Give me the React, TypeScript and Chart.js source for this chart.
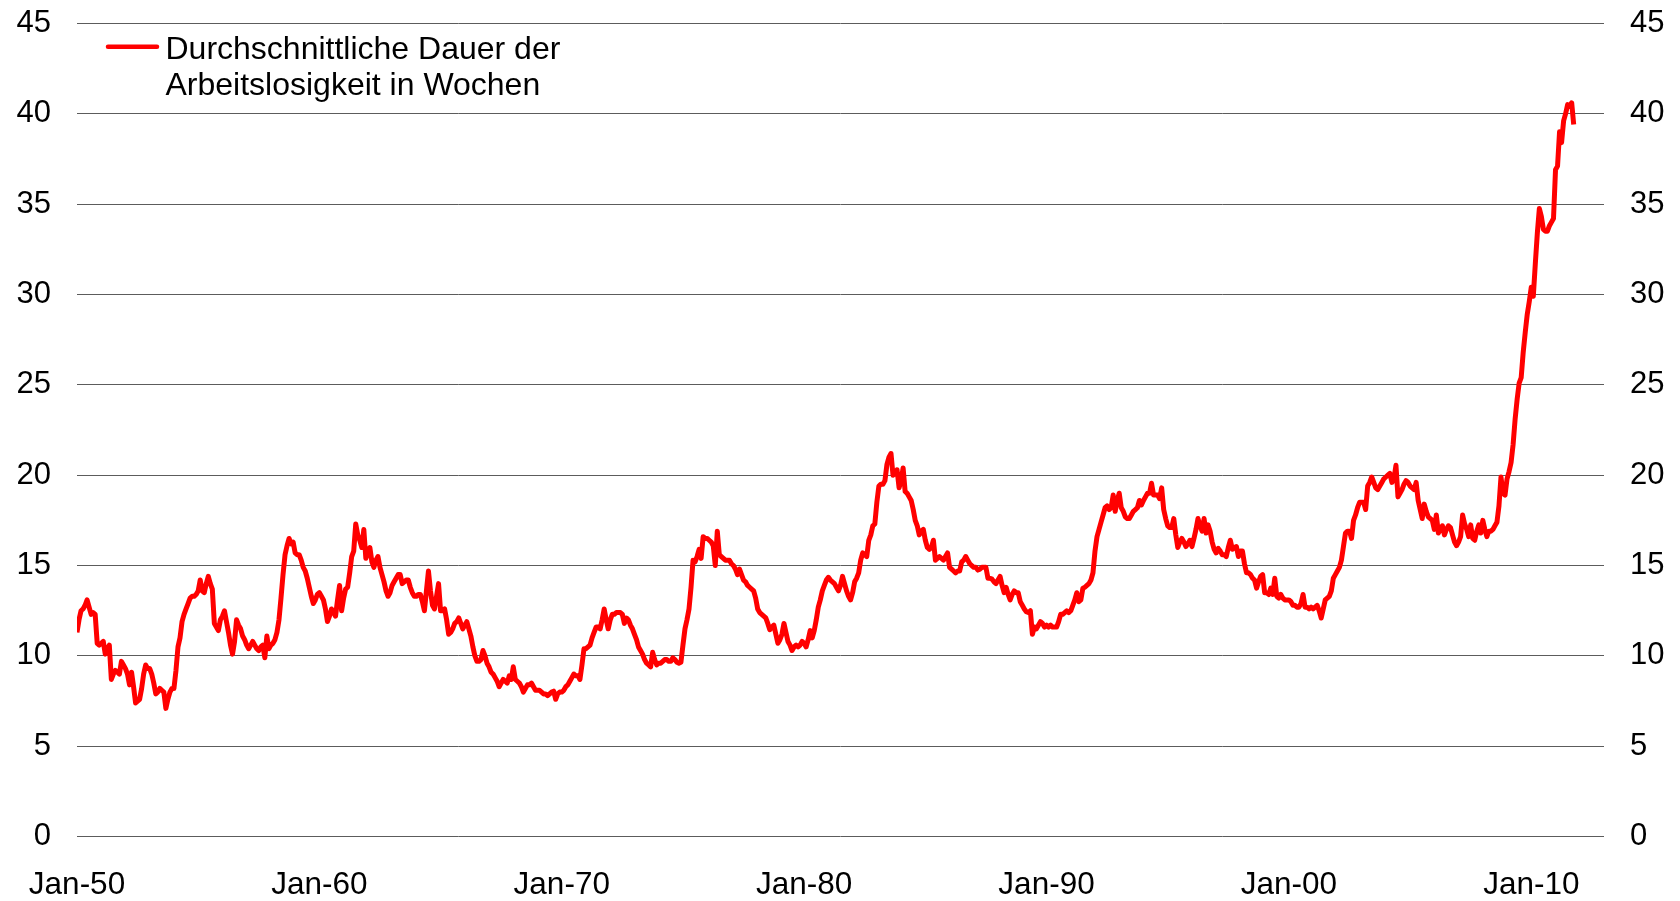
import { useEffect, useRef } from "react";
import { Chart, registerables } from "chart.js";

Chart.register(...registerables);

// ---- data ----
const tickLabels = ["Jan-50", "Jan-60", "Jan-70", "Jan-80", "Jan-90", "Jan-00", "Jan-10"];
const tickStepMonths = 120;
const axisMaxMonths = 756; // axis runs to Jan-13
const seriesLabel = "Durchschnittliche Dauer der Arbeitslosigkeit in Wochen";
const legendLines = ["Durchschnittliche Dauer der", "Arbeitslosigkeit in Wochen"];
const yMin = 0;
const yMax = 45;
const yStep = 5;

// monthly values, Jan 1950 – Oct 2011 (one row per year)
const durationWeeks = [
  11.3, 12.0, 12.5, 12.6, 12.8, 13.1, 12.7, 12.3, 12.4, 12.3, 10.7, 10.6,
  10.7, 10.8, 10.1, 10.4, 10.6, 8.7, 9.0, 9.2, 9.1, 9.0, 9.7, 9.5,
  9.3, 9.0, 8.4, 9.1, 8.3, 7.4, 7.5, 7.6, 8.2, 9.0, 9.5, 9.3,
  9.3, 9.0, 8.5, 7.9, 8.0, 8.2, 8.1, 8.0, 7.1, 7.6, 8.0, 8.2,
  8.2, 9.2, 10.5, 11.0, 11.9, 12.3, 12.6, 12.9, 13.2, 13.3, 13.3, 13.4,
  13.6, 14.2, 13.6, 13.5, 14.0, 14.4, 14.0, 13.7, 11.8, 11.6, 11.4, 12.0,
  12.2, 12.5, 11.9, 11.3, 10.6, 10.1, 10.8, 12.0, 11.7, 11.5, 11.1, 10.9,
  10.6, 10.4, 10.6, 10.8, 10.6, 10.4, 10.3, 10.5, 10.6, 9.9, 11.1, 10.4,
  10.6, 10.7, 10.9, 11.3, 12.0, 13.2, 14.5, 15.6, 16.1, 16.5, 16.2, 16.3,
  15.7, 15.6, 15.6, 15.3, 14.9, 14.7, 14.3, 13.8, 13.3, 12.9, 13.1, 13.4,
  13.5, 13.3, 13.1, 12.6, 11.9, 12.2, 12.6, 12.4, 12.2, 13.1, 13.9, 12.5,
  13.2, 13.7, 13.8, 14.6, 15.5, 15.8, 17.3, 16.7, 16.4, 16.0, 17.0, 15.4,
  15.7, 16.0, 15.2, 14.9, 15.3, 15.5, 14.9, 14.5, 14.1, 13.6, 13.3, 13.5,
  13.9, 14.1, 14.3, 14.5, 14.5, 14.0, 14.1, 14.2, 14.2, 13.8, 13.5, 13.3,
  13.3, 13.4, 13.4, 13.0, 12.5, 13.6, 14.7, 13.6, 12.8, 12.6, 13.3, 14.0,
  12.5, 12.5, 12.6, 12.0, 11.2, 11.3, 11.5, 11.8, 11.9, 12.1, 11.8, 11.5,
  11.7, 11.9, 11.5, 11.1, 10.5, 10.0, 9.7, 9.7, 9.8, 10.3, 10.0, 9.6,
  9.4, 9.1, 9.0, 8.8, 8.6, 8.3, 8.5, 8.7, 8.6, 8.5, 8.9, 8.7,
  9.4, 8.7, 8.6, 8.5, 8.3, 8.0, 8.2, 8.4, 8.4, 8.5, 8.3, 8.1,
  8.1, 8.1, 8.0, 7.9, 7.9, 7.8, 7.9, 8.0, 8.05, 7.6, 7.9, 8.0,
  8.0, 8.1, 8.3, 8.4, 8.6, 8.8, 9.0, 8.9, 8.9, 8.7, 9.5, 10.4,
  10.4, 10.5, 10.6, 11.0, 11.3, 11.6, 11.6, 11.5, 12.0, 12.6, 12.0, 11.5,
  12.0, 12.3, 12.3, 12.4, 12.4, 12.4, 12.3, 11.8, 12.1, 12.0, 11.7, 11.5,
  11.2, 10.9, 10.5, 10.3, 10.1, 9.8, 9.6, 9.5, 9.4, 10.2, 9.8, 9.5,
  9.6, 9.6, 9.7, 9.8, 9.8, 9.7, 9.7, 9.9, 9.8, 9.65, 9.6, 9.65,
  10.6, 11.5, 12.0, 12.6, 13.8, 15.3, 15.2, 15.5, 15.9, 15.4, 16.6, 16.5,
  16.5, 16.4, 16.3, 16.1, 15.0, 16.9, 15.6, 15.5, 15.4, 15.3, 15.3, 15.3,
  15.1, 15.0, 14.8, 14.5, 14.8, 14.5, 14.2, 14.1, 13.9, 13.8, 13.7, 13.6,
  13.2, 12.6, 12.4, 12.3, 12.2, 12.1, 11.8, 11.45, 11.6, 11.7, 11.2, 10.7,
  10.9, 11.2, 11.8, 11.3, 10.8, 10.6, 10.3, 10.5, 10.6, 10.5, 10.6, 10.8,
  10.7, 10.5, 10.9, 11.4, 11.0, 11.4, 12.0, 12.7, 13.1, 13.6, 13.9, 14.2,
  14.35, 14.2, 14.1, 14.0, 13.8, 13.6, 13.9, 14.4, 14.0, 13.6, 13.3, 13.1,
  13.5, 14.1, 14.3, 14.6, 15.3, 15.7, 15.6, 15.5, 16.4, 16.7, 17.2, 17.3,
  18.5, 19.4, 19.5, 19.5, 19.7, 20.6, 21.0, 21.2, 20.0, 20.1, 20.3, 19.3,
  19.7, 20.4, 19.1, 19.0, 18.8, 18.6, 18.1, 17.5, 17.2, 16.7, 16.9, 17.0,
  16.4, 16.0, 15.9, 16.0, 16.4, 15.3, 15.4, 15.5, 15.4, 15.3, 15.5, 15.7,
  14.9, 14.8, 14.7, 14.6, 14.7, 14.7, 15.2, 15.3, 15.5, 15.3, 15.1, 15.0,
  14.9, 14.9, 14.75, 14.8, 14.9, 14.9, 14.9, 14.3, 14.3, 14.25, 14.1, 14.0,
  14.2, 14.4, 13.9, 13.5, 13.8, 13.4, 13.1, 13.4, 13.6, 13.5, 13.5, 13.0,
  12.8, 12.6, 12.45, 12.4, 12.5, 11.2, 11.6, 11.5, 11.7, 11.9, 11.8, 11.6,
  11.7, 11.6, 11.7, 11.6, 11.6, 11.6, 11.9, 12.3, 12.3, 12.4, 12.5, 12.4,
  12.5, 12.8, 13.1, 13.5, 13.0, 13.1, 13.75, 13.8, 13.9, 14.0, 14.2, 14.6,
  15.8, 16.6, 17.0, 17.4, 17.8, 18.2, 18.3, 18.1, 18.2, 18.9, 18.0, 18.6,
  19.0, 18.2, 18.0, 17.7, 17.6, 17.6, 17.8, 18.0, 18.1, 18.2, 18.6, 18.35,
  18.6, 18.8, 19.0, 19.0, 19.55, 18.9, 18.9, 18.9, 18.7, 19.3, 18.1, 17.6,
  17.2, 17.1, 17.1, 17.6, 16.7, 16.0, 16.3, 16.5, 16.3, 16.05, 16.2, 16.4,
  16.05, 16.5, 17.0, 17.6, 17.2, 16.9, 17.6, 16.8, 17.25, 16.9, 16.3, 15.9,
  15.7, 15.95, 15.8, 15.6, 15.6, 15.5, 16.0, 16.4, 15.9, 16.0, 16.05, 15.5,
  15.8, 15.8, 15.1, 14.6, 14.6, 14.5, 14.3, 14.2, 13.75, 14.1, 14.4, 14.5,
  13.5, 13.5, 13.4, 13.75, 13.4, 14.3, 13.3, 13.2, 13.4, 13.2, 13.1, 13.1,
  13.1, 13.0, 12.8, 12.8, 12.7, 12.7, 12.9, 13.4, 12.7, 12.7, 12.6, 12.7,
  12.6, 12.7, 12.8, 12.5, 12.1, 12.6, 13.1, 13.2, 13.3, 13.6, 14.3, 14.5,
  14.7, 14.9, 15.3, 16.05, 16.8, 16.9, 16.9, 16.5, 17.5, 17.8, 18.2, 18.5,
  18.5, 18.5, 18.1, 19.4, 19.6, 19.9, 19.6, 19.3, 19.2, 19.4, 19.6, 19.8,
  19.9, 20.0, 20.1, 19.6, 19.8, 20.55, 18.8, 19.0, 19.2, 19.5, 19.7, 19.6,
  19.4, 19.3, 19.2, 19.6, 18.6, 18.1, 17.6, 18.4, 18.0, 17.7, 17.6, 17.5,
  17.0, 17.8, 16.8, 17.0, 17.2, 16.7, 17.0, 17.2, 17.1, 16.7, 16.3, 16.1,
  16.3, 16.6, 17.8, 17.3, 17.0, 16.6, 17.25, 16.5, 16.4, 16.9, 17.25, 16.8,
  17.5, 17.0, 16.6, 16.9, 16.9, 17.0, 17.2, 17.4, 18.3, 19.9, 19.0, 18.9,
  19.8, 20.2, 20.7, 21.7, 23.1, 24.2, 25.1, 25.4, 26.8, 27.9, 28.9, 29.6,
  30.4, 29.9, 31.7, 33.4, 34.75, 34.3, 33.6, 33.5, 33.5, 33.8, 34.0, 34.2,
  36.9, 37.1, 39.0, 38.4, 39.6, 40.0, 40.5, 40.4, 40.6, 39.4,
];

// ---- styles ----
const FONT = '"Liberation Sans", Arial, Helvetica, sans-serif';
const LINE_COLOR = "#ff0000";
const GRID_COLOR = "#5c5c5c";

const legendPlugin = {
  id: "wrappedLegend",
  afterDraw(chart: any) {
    const { ctx, chartArea } = chart;
    const { left, top } = chartArea;
    ctx.save();
    ctx.strokeStyle = LINE_COLOR;
    ctx.lineWidth = 4.5;
    ctx.lineCap = "round";
    ctx.beginPath();
    ctx.moveTo(left + 31, top + 23.5);
    ctx.lineTo(left + 80, top + 23.5);
    ctx.stroke();
    ctx.fillStyle = "#000";
    ctx.font = `32px ${FONT}`;
    ctx.textBaseline = "alphabetic";
    ctx.textAlign = "left";
    ctx.fillText(legendLines[0], left + 88.5, top + 36);
    ctx.fillText(legendLines[1], left + 88.5, top + 71.7);
    ctx.restore();
  },
};

export default function App() {
  const canvasRef = useRef<HTMLCanvasElement | null>(null);

  useEffect(() => {
    if (!canvasRef.current) return;
    const points = durationWeeks.map((v, i) => ({ x: i, y: v }));
    const yTickOpts = {
      stepSize: yStep,
      color: "#000",
      padding: 26,
      font: { family: FONT, size: 31 },
    };
    const fitY = (w: number) => (s: any) => {
      s.width = w;
      s.paddingTop = 0;
      s.paddingBottom = 0;
    };
    const chart = new Chart(canvasRef.current, {
      type: "line",
      data: {
        datasets: [
          {
            label: seriesLabel,
            data: points,
            borderColor: LINE_COLOR,
            backgroundColor: LINE_COLOR,
            borderWidth: 5,
            pointRadius: 0,
            tension: 0,
            borderJoinStyle: "round",
            yAxisID: "y",
          },
        ],
      },
      options: {
        animation: false,
        responsive: true,
        maintainAspectRatio: false,
        layout: { padding: { top: 23.3, left: 0, right: 0, bottom: 0 } },
        plugins: {
          legend: { display: false },
          tooltip: { enabled: false },
        },
        scales: {
          x: {
            type: "linear",
            min: 0,
            max: axisMaxMonths,
            grid: { display: false },
            border: { display: false },
            afterBuildTicks: (s: any) => {
              s.ticks = tickLabels.map((_, i) => ({ value: i * tickStepMonths }));
            },
            afterFit: (s: any) => {
              s.height = 64.3;
              s.paddingLeft = 0;
              s.paddingRight = 0;
            },
            ticks: {
              autoSkip: false,
              maxRotation: 0,
              minRotation: 0,
              color: "#000",
              padding: 22,
              font: { family: FONT, size: 31.5 },
              callback: (value: any) => {
                const idx = Math.round(Number(value) / tickStepMonths);
                return tickLabels[idx] ?? "";
              },
            },
          },
          y: {
            position: "left",
            min: yMin,
            max: yMax,
            grid: { color: GRID_COLOR, lineWidth: 1, drawTicks: false },
            border: { display: false },
            ticks: yTickOpts,
            afterFit: fitY(77),
          },
          y2: {
            position: "right",
            min: yMin,
            max: yMax,
            grid: { display: false, drawTicks: false },
            border: { display: false },
            ticks: yTickOpts,
            afterFit: fitY(76),
          },
        },
      } as any,
      plugins: [legendPlugin],
    });
    return () => chart.destroy();
  }, []);

  return (
    <div
      style={{
        position: "fixed",
        left: 0,
        top: 0,
        width: 1680,
        height: 901,
        background: "#fff",
      }}
    >
      <canvas ref={canvasRef} />
    </div>
  );
}
